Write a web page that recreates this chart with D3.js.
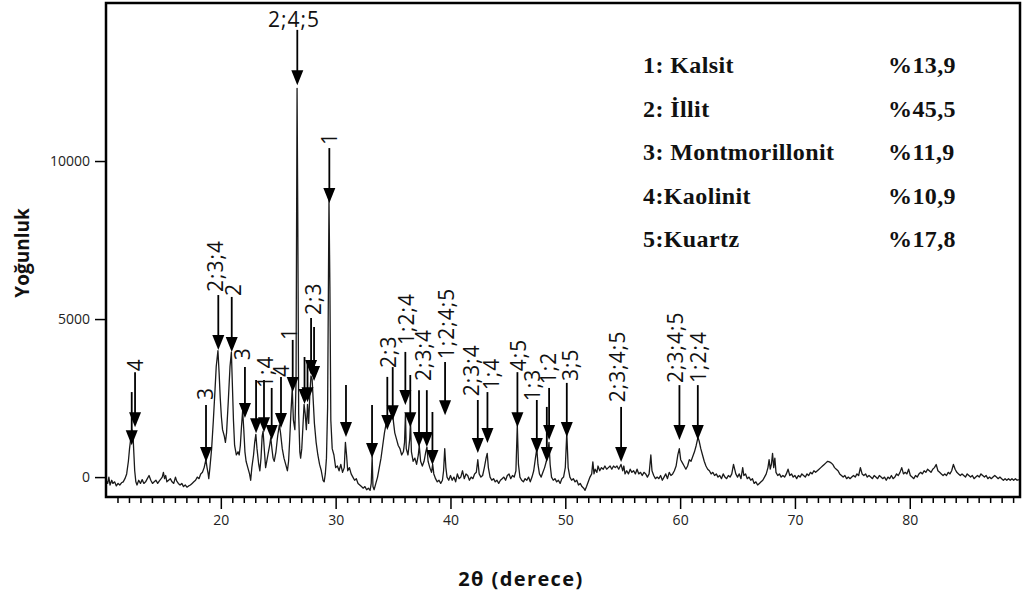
<!DOCTYPE html>
<html><head><meta charset="utf-8">
<script src="https://cdn.jsdelivr.net/npm/d3@7"></script>
<style>body{margin:0;background:#fff;}</style>
</head><body>
<svg id="chart" width="1024" height="599"></svg>
<script>
// ---- data ----
const twoTheta = [10.0,10.15,10.25,10.35,10.5,10.6,10.75,10.9,11.05,11.2,11.35,11.5,11.65,11.8,11.95,12.05,12.15,12.25,12.35,12.42,12.5,12.6,12.7,12.85,13.0,13.15,13.3,13.45,13.6,13.75,13.9,14.05,14.2,14.35,14.5,14.65,14.8,14.9,15.0,15.1,15.2,15.3,15.45,15.6,15.75,15.9,16.05,16.15,16.3,16.45,16.6,16.75,16.9,17.05,17.2,17.35,17.5,17.65,17.8,17.95,18.1,18.25,18.4,18.55,18.7,18.8,18.9,18.95,19.05,19.2,19.35,19.5,19.6,19.75,19.85,19.95,20.05,20.15,20.3,20.4,20.5,20.65,20.8,20.92,21.0,21.1,21.2,21.35,21.5,21.6,21.7,21.8,21.9,22.0,22.1,22.2,22.35,22.5,22.6,22.7,22.85,22.95,23.05,23.15,23.3,23.4,23.5,23.6,23.68,23.8,23.9,24.0,24.1,24.25,24.35,24.45,24.55,24.65,24.8,24.95,25.1,25.2,25.35,25.5,25.65,25.8,25.9,26.0,26.1,26.22,26.32,26.45,26.55,26.64,26.7,26.78,26.88,26.95,27.05,27.15,27.25,27.35,27.45,27.55,27.65,27.75,27.85,27.95,28.05,28.15,28.3,28.45,28.6,28.75,28.9,29.0,29.1,29.2,29.3,29.42,29.5,29.58,29.7,29.85,30.0,30.15,30.3,30.45,30.6,30.75,30.85,30.95,31.05,31.2,31.35,31.5,31.65,31.8,31.95,32.1,32.25,32.4,32.55,32.7,32.85,33.0,33.1,33.18,33.25,33.35,33.5,33.65,33.8,33.95,34.1,34.25,34.4,34.55,34.65,34.8,34.95,35.05,35.15,35.3,35.45,35.6,35.75,35.9,36.0,36.08,36.15,36.3,36.45,36.52,36.6,36.75,36.9,37.05,37.2,37.28,37.4,37.55,37.7,37.85,37.95,38.05,38.2,38.35,38.45,38.55,38.7,38.85,39.0,39.15,39.3,39.4,39.5,39.6,39.7,39.85,40.0,40.15,40.3,40.45,40.6,40.75,40.9,41.05,41.2,41.35,41.5,41.65,41.8,41.95,42.1,42.25,42.38,42.5,42.65,42.8,42.95,43.1,43.2,43.3,43.45,43.6,43.75,43.9,44.05,44.2,44.35,44.5,44.65,44.8,44.95,45.1,45.25,45.4,45.55,45.7,45.82,45.92,46.05,46.2,46.35,46.5,46.65,46.8,46.95,47.1,47.25,47.4,47.52,47.62,47.75,47.9,48.05,48.2,48.35,48.45,48.58,48.68,48.8,48.95,49.1,49.25,49.4,49.55,49.7,49.85,50.0,50.13,50.25,50.4,50.55,50.7,50.85,51.0,51.15,51.3,51.45,51.6,51.72,51.85,52.0,52.15,52.3,52.4,52.5,52.6,52.75,52.85,53.0,53.15,53.3,53.45,53.6,53.75,53.9,54.05,54.2,54.35,54.5,54.65,54.85,55.0,55.1,55.2,55.35,55.5,55.65,55.8,55.95,56.1,56.25,56.4,56.55,56.7,56.85,57.0,57.15,57.3,57.45,57.55,57.7,57.85,58.0,58.15,58.3,58.45,58.6,58.75,58.9,59.05,59.2,59.35,59.5,59.65,59.8,59.93,60.05,60.2,60.35,60.5,60.65,60.8,60.95,61.1,61.25,61.4,61.55,61.65,61.8,61.95,62.1,62.25,62.4,62.55,62.7,62.85,63.0,63.15,63.3,63.45,63.6,63.75,63.9,64.05,64.2,64.35,64.5,64.65,64.75,64.85,65.0,65.15,65.3,65.45,65.55,65.7,65.85,66.0,66.15,66.3,66.45,66.6,66.75,66.9,67.05,67.2,67.35,67.5,67.65,67.75,67.85,67.95,68.05,68.15,68.25,68.35,68.5,68.65,68.8,68.95,69.1,69.25,69.4,69.55,69.7,69.85,70.0,70.15,70.3,70.45,70.6,70.75,70.9,71.05,71.2,71.35,71.5,71.65,71.8,71.95,72.1,72.25,72.4,72.55,72.7,72.85,73.0,73.15,73.3,73.45,73.6,73.75,73.9,74.05,74.2,74.35,74.5,74.65,74.8,74.95,75.1,75.25,75.4,75.55,75.7,75.85,76.0,76.15,76.3,76.45,76.6,76.75,76.9,77.05,77.2,77.35,77.5,77.65,77.8,77.95,78.1,78.25,78.4,78.55,78.7,78.85,79.0,79.15,79.3,79.45,79.6,79.75,79.9,80.05,80.2,80.35,80.5,80.65,80.8,80.95,81.1,81.25,81.4,81.55,81.7,81.85,82.0,82.15,82.3,82.45,82.6,82.75,82.9,83.05,83.2,83.35,83.5,83.65,83.8,83.95,84.1,84.25,84.4,84.55,84.7,84.85,85.0,85.15,85.3,85.45,85.6,85.75,85.9,86.05,86.2,86.35,86.5,86.65,86.8,86.95,87.1,87.25,87.4,87.55,87.7,87.85,88.0,88.15,88.3,88.45,88.6,88.75,88.9,89.05,89.2,89.35,89.5];
const intensity = [-100,-200,0,-250,-100,-200,-150,-280,-200,-250,-180,-150,-50,100,500,900,1200,1500,1350,800,200,-150,-250,-100,-200,-80,-200,-150,-50,50,-100,-200,-150,-100,-200,-120,-50,0,150,-50,50,-150,-100,-50,-150,-200,0,-120,-200,-250,-200,-300,-250,-320,-280,-250,-200,-150,-100,0,-50,100,150,300,550,300,100,-50,300,900,1800,2800,3500,4000,3300,2500,1900,1500,1300,1100,1400,2400,3500,3950,3000,1800,1000,700,800,700,1000,1600,2100,1500,800,500,300,100,-100,300,700,1100,1350,900,400,200,600,1300,1450,800,300,500,700,1000,1250,900,600,500,800,1300,1650,1400,900,600,400,200,500,1200,2000,2800,1800,1500,3000,12300,8400,2000,800,600,900,1600,2300,2000,1500,2300,1700,2600,3200,3100,2400,1700,1100,700,400,200,-100,-150,100,600,2200,8800,6000,1800,900,700,300,350,200,400,150,300,1100,700,200,300,100,0,-100,-50,-200,-250,-300,-350,-300,-400,-350,-420,-200,650,-300,-400,-200,0,300,600,1000,1400,1700,1950,1700,1800,2050,1700,1400,1200,1000,900,700,800,1100,2000,900,700,1200,1750,800,500,600,400,700,1000,500,350,500,800,950,500,300,150,400,100,-50,-150,-100,-200,-100,200,900,300,0,-100,50,-100,0,-150,100,-50,0,200,-50,100,50,-100,0,-50,100,150,550,100,0,50,300,600,750,300,0,-100,-50,-150,-100,-200,-100,-50,0,-100,50,100,-50,50,0,200,1650,400,0,-100,-150,-50,-100,0,-150,0,200,600,900,400,100,0,150,300,500,700,1100,400,0,-100,-50,-150,-100,-200,-50,0,300,1400,300,0,-100,-50,-150,-100,-250,-200,-300,-350,-420,-300,-150,0,100,480,100,250,150,350,200,300,250,350,250,300,350,250,350,300,350,250,400,200,350,100,200,100,250,150,200,100,250,100,150,50,150,100,0,100,700,200,50,-50,0,-50,50,-100,0,100,-50,150,50,100,200,350,700,900,550,450,350,250,350,550,500,650,800,1000,1250,1150,900,700,500,350,250,200,100,150,50,100,0,50,-50,100,0,-50,50,0,100,400,250,100,0,100,-50,300,50,100,-50,0,-100,-50,-200,-150,-250,-200,-150,-100,0,100,300,550,250,400,750,300,600,150,50,100,0,50,0,100,250,50,100,0,50,-50,50,0,100,50,0,100,50,150,100,200,150,200,250,300,350,400,450,500,480,450,400,300,250,200,100,50,0,50,-50,0,-50,0,50,0,100,50,300,100,50,100,0,50,0,-50,50,0,-50,50,0,-50,0,-100,0,-50,50,-50,0,100,50,150,300,100,150,100,250,50,0,-50,50,0,100,150,100,200,150,250,200,150,250,300,400,200,150,100,50,100,50,150,100,200,400,250,150,100,50,100,50,0,100,50,0,50,-50,0,50,0,100,50,0,50,-50,0,-50,0,50,0,-50,0,-50,-100,-50,-100,-50,-100,-50,-100,-50,-100,-80];

const xTickValues = [20, 30, 40, 50, 60, 70, 80];
const yTickValues = [0, 5000, 10000];

// peak marker arrows: position (2θ), shaft top and tip (intensity)
const arrowAt  = [12.24,12.53,18.71,19.78,20.95,22.1,23.07,23.76,24.43,25.24,26.26,26.66,27.29,27.55,27.86,28.12,29.45,30.9,33.17,34.5,34.97,36.07,36.5,37.26,37.94,38.43,39.53,42.38,43.22,45.83,47.52,48.39,48.59,50.13,54.86,59.94,61.54];
const arrowTop = [2690,3320,2280,5760,5700,3480,3070,3070,2820,3170,4340,14150,3800,3700,5030,4750,10410,2910,2280,3170,3480,3960,3230,2750,2750,2060,3640,2440,2690,3320,2440,2220,2820,2980,2220,2910,2910];
const arrowTip = [1010,1580,475,4020,3960,1870,1390,1420,1170,1550,2690,12400,2310,2370,3230,3040,8670,1270,600,1490,1800,2280,1580,950,950,380,1960,760,1075,1580,760,475,1170,1270,475,1170,1170];

// peak labels
const peakLabels = ["4","3","2;3;4","2","3","1;4","4","1","2;4;5","2;3","1","2;3","1;2;4","2;3;4","1;2;4;5","2;3;4","1;4","4;5","1;3","1;2","3;5","2;3;4;5","2;3;4;5","1;2;4"];
const labelAt    = [12.53,18.62,19.5,21.06,21.85,23.85,25.28,25.94,26.38,28.03,29.42,34.56,36.13,37.61,39.62,41.8,43.54,45.89,47.11,48.5,50.42,54.51,59.56,61.57];
const labelBase  = [3350,2440,5855,5730,3700,2820,3170,4340,14500,5130,10510,3450,4180,3040,3730,2560,2750,3350,2400,2940,3040,2370,2975,2975];
const labelUpright = [false,false,false,false,false,false,false,false,true,false,false,false,false,false,false,false,false,false,false,false,false,false,false,false];

// composition legend
const minerals = ["1: Kalsit", "2: İllit", "3: Montmorillonit", "4:Kaolinit", "5:Kuartz"];
const shares   = ["%13,9", "%45,5", "%11,9", "%10,9", "%17,8"];

// ---- drawing ----
const svg = d3.select("#chart");
const L = 106, R = 1020, T = 3, B = 497;
const x = d3.scaleLinear().domain([10, 89.6]).range([L, R]);
const y = d3.scaleLinear().domain([-630, 15000]).range([B, T]);

svg.append("defs").append("clipPath").attr("id","clip")
  .append("rect").attr("x", L).attr("y", T).attr("width", R - L).attr("height", B - T);

const pts = twoTheta.map((t, i) => [t, intensity[i]]);
svg.append("path")
  .datum(pts)
  .attr("clip-path", "url(#clip)")
  .attr("fill", "none")
  .attr("stroke", "#1a1a1a")
  .attr("stroke-width", 1.3)
  .attr("stroke-linejoin", "round")
  .attr("d", d3.line().x(d => x(d[0])).y(d => y(d[1])));

// arrows
const ag = svg.append("g");
arrowAt.forEach((a, i) => {
  const px = x(a), pt = y(arrowTop[i]), pk = y(arrowTip[i]);
  ag.append("line").attr("x1", px).attr("x2", px).attr("y1", pt).attr("y2", pk - 8)
    .attr("stroke", "#000").attr("stroke-width", 1.8);
  ag.append("path")
    .attr("d", `M${px - 6},${pk - 15} L${px + 6},${pk - 15} L${px},${pk} Z`)
    .attr("fill", "#000");
});

// peak labels
const lg = svg.append("g").style("font-family", "'Open Sans', sans-serif").style("font-size", "21px")
  .style("letter-spacing", "1px").attr("fill", "#111");
peakLabels.forEach((s, i) => {
  const px = x(labelAt[i]), py = y(labelBase[i]);
  if (labelUpright[i]) {
    lg.append("text").attr("x", px).attr("y", py).attr("text-anchor", "middle")
      .attr("dominant-baseline", "central").text(s);
  } else {
    lg.append("text").attr("transform", `translate(${px},${py}) rotate(-90)`)
      .attr("text-anchor", "start").attr("dominant-baseline", "central").text(s);
  }
});

// axes
const xMinor = d3.range(11, 90).filter(v => v % 10 !== 0);
svg.append("g").attr("transform", `translate(0,${B})`)
  .call(d3.axisBottom(x).tickValues(xMinor).tickSize(6).tickFormat(""))
  .call(g => g.select(".domain").remove())
  .call(g => g.selectAll("line").attr("stroke", "#000").attr("stroke-width", 1.5));
const xg = svg.append("g").attr("transform", `translate(0,${B})`)
  .call(d3.axisBottom(x).tickValues(xTickValues).tickSize(12).tickPadding(6).tickFormat(d3.format("d")));
xg.select(".domain").remove();
xg.selectAll("line").attr("stroke", "#000").attr("stroke-width", 1.5);
xg.selectAll("text").style("font-family", "'Open Sans', sans-serif").style("font-size", "14px").attr("fill", "#222");

const yg = svg.append("g").attr("transform", `translate(${L},0)`)
  .call(d3.axisLeft(y).tickValues(yTickValues).tickSize(11).tickPadding(5).tickFormat(d3.format("d")));
yg.select(".domain").remove();
yg.selectAll("line").attr("stroke", "#000").attr("stroke-width", 1.5);
yg.selectAll("text").style("font-family", "'Open Sans', sans-serif").style("font-size", "14px").attr("fill", "#222");

// frame
svg.append("rect").attr("x", L).attr("y", T).attr("width", R - L).attr("height", B - T)
  .attr("fill", "none").attr("stroke", "#000").attr("stroke-width", 2.5);

// axis titles
svg.append("text").attr("x", 521).attr("y", 586).attr("text-anchor", "middle")
  .style("font-family", "'Open Sans', sans-serif").style("font-size", "20px").style("font-weight", "bold")
  .style("letter-spacing", "1.4px").attr("fill", "#111").text("2θ (derece)");
svg.append("text").attr("transform", "translate(22,253) rotate(-90)").attr("text-anchor", "middle")
  .attr("dominant-baseline", "central")
  .style("font-family", "'Open Sans', sans-serif").style("font-size", "19px").style("font-weight", "bold")
  .attr("fill", "#111").text("Yoğunluk");

// legend
const leg = svg.append("g").style("font-family", "'Liberation Serif', 'Times New Roman', serif")
  .style("font-size", "24px").style("font-weight", "bold").attr("fill", "#111");
minerals.forEach((m, i) => {
  leg.append("text").attr("x", 643).attr("y", 73 + i * 43.5).style("letter-spacing", "0.4px").text(m);
  leg.append("text").attr("x", 888).attr("y", 73 + i * 43.5).style("letter-spacing", "0.4px").text(shares[i]);
});
</script>
</body></html>
